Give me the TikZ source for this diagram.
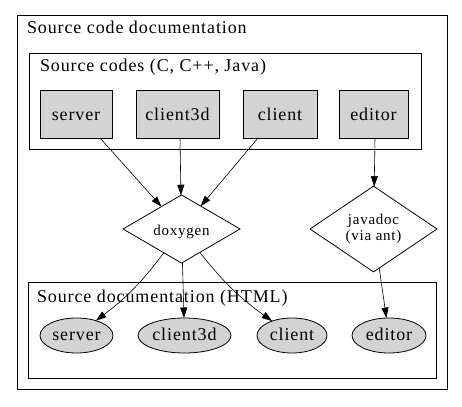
\documentclass[tikz,border=0pt]{standalone}
\usepackage{fontspec}
\setmainfont{Liberation Serif}
\newfontfamily\lblfont[LetterSpace=5]{Liberation Serif}
\newfontfamily\smfont[LetterSpace=5]{Liberation Serif}
\usetikzlibrary{shapes.geometric,arrows.meta}
\definecolor{gvgray}{HTML}{D3D3D3}
\begin{document}
\begin{tikzpicture}[x=1pt,y=-1pt,
  every node/.style={inner sep=0pt, outer sep=0pt},
  cluster/.style={draw, line width=0.8pt},
  title/.style={anchor=base west, font=\lblfont\fontsize{18}{21}\selectfont},
  srcbox/.style={draw, fill=gvgray, line width=0.8pt, rectangle, minimum height=48pt, text height=14pt, text depth=0pt, font=\lblfont\fontsize{18}{21}\selectfont},
  docell/.style={draw, fill=gvgray, line width=0.8pt, ellipse, minimum height=35pt, text height=10.4pt, text depth=0pt, font=\lblfont\fontsize{18}{21}\selectfont},
  tool/.style={draw, line width=0.8pt, diamond, font=\smfont\fontsize{15}{16.5}\selectfont, align=center},
  edge/.style={line width=0.6pt, -{Triangle[length=10.5pt,width=7pt]}}
]
\useasboundingbox (0,0) rectangle (462,406);
\fill[white] (0,0) rectangle (462,406);

% clusters
\node[cluster, minimum width=430pt, minimum height=374pt] (outer) at (232,202) {};
\node[title] (outert) at (27,34) {Source code documentation};
\node[cluster, minimum width=392pt, minimum height=96pt] (codes) at (225,101) {};
\node[title] (codest) at (40,72) {Source codes (C, C++, Java)};
\node[cluster, minimum width=408pt, minimum height=96pt] (html) at (232,330) {};
\node[title] (htmlt) at (37,302) {Source documentation (HTML)};

% source boxes
\node[srcbox, minimum width=72pt] (s1) at (76,114) {server};
\node[srcbox, minimum width=83pt] (s2) at (177.5,114) {client3d};
\node[srcbox, minimum width=74pt] (s3) at (280,114) {client};
\node[srcbox, minimum width=69pt] (s4) at (373.5,114) {editor};

% tools
\node[tool, minimum width=117pt, minimum height=48pt, text height=12pt, text depth=0pt] (dox) at (181.5,229) {doxygen};
\node[tool, minimum width=127pt, minimum height=84pt] (jd) at (373.5,229) {javadoc\\(via ant)};

% docs
\node[docell, minimum width=73pt] (d1) at (76.5,335.5) {server};
\node[docell, minimum width=93pt] (d2) at (184.5,335.5) {client3d};
\node[docell, minimum width=70pt] (d3) at (292,335.5) {client};
\node[docell, minimum width=74pt] (d4) at (389,335.5) {editor};

% edges
\draw[edge] ([xshift=24pt]s1.south) -- (dox);
\draw[edge] ([xshift=2.5pt]s2.south) -- (dox);
\draw[edge] ([xshift=-22pt]s3.south) -- (dox);
\draw[edge] ([xshift=1.5pt]s4.south) -- (jd);
\draw[edge] (dox) to[bend left=8] (d1);
\draw[edge] (dox) -- (d2);
\draw[edge] (dox) to[bend right=8] (d3);
\draw[edge] (jd) -- (d4);
\end{tikzpicture}
\end{document}
